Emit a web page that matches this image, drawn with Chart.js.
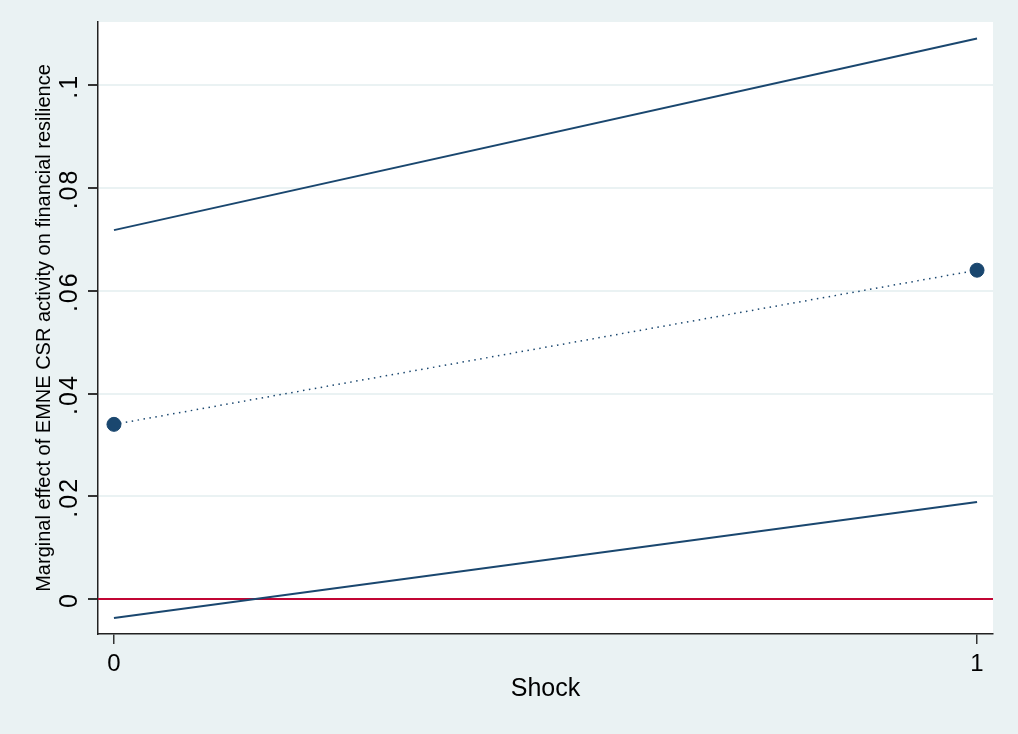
<!DOCTYPE html>
<html>
<head>
<meta charset="utf-8">
<script src="https://cdn.jsdelivr.net/npm/chart.js@4/dist/chart.umd.min.js"></script>
<style>
  html, body { margin: 0; padding: 0; background: #eaf2f3; }
  #wrap { width: 1018px; height: 734px; }
</style>
</head>
<body>
<div id="wrap"><canvas id="c" width="1018" height="734"></canvas></div>
<script>
// margins plot: effect of EMNE CSR at Shock = 0 / 1
const SHOCK = [0, 1];
const EFFECT = [0.0340, 0.0640];
const CI_UPPER = [0.0718, 0.1091];
const CI_LOWER = [-0.0037, 0.0189];

const X_MIN = -0.0185, X_MAX = 1.0185;
const Y_MIN = -0.0068, Y_MAX = 0.1123;
const X_TICKS = [0, 1];
const Y_TICKS = [0, 0.02, 0.04, 0.06, 0.08, 0.1];
const Y_TICK_LABELS = ["0", ".02", ".04", ".06", ".08", ".1"];

const NAVY = "#1a476f";
const RED = "#c10534";
const FONT = "'Liberation Sans', Arial, Helvetica, sans-serif";

function pts(ys) {
  return SHOCK.map(function (x, i) { return { x: x, y: ys[i] }; });
}

const stataText = {
  id: "stataText",
  beforeDraw(chart) {
    const a = chart.chartArea, ctx = chart.ctx;
    ctx.save();
    ctx.fillStyle = "#ffffff";
    ctx.fillRect(a.left, a.top, a.right - a.left, a.bottom - a.top);
    ctx.restore();
  },
  afterDraw(chart) {
    const ctx = chart.ctx, a = chart.chartArea, ys = chart.scales.y;
    ctx.save();
    ctx.fillStyle = "#000";
    ctx.textAlign = "center";
    ctx.textBaseline = "middle";
    // rotated y tick labels
    ctx.font = "25px " + FONT;
    ctx.letterSpacing = "2px";
    Y_TICKS.forEach(function (v, i) {
      const py = ys.getPixelForValue(v);
      ctx.save();
      ctx.translate(70, py + 1);
      ctx.rotate(-Math.PI / 2);
      ctx.fillText(Y_TICK_LABELS[i], 0, 0);
      ctx.restore();
    });
    ctx.letterSpacing = "0px";
    // y title
    ctx.font = "20px " + FONT;
    ctx.save();
    ctx.translate(44, (a.top + a.bottom) / 2);
    ctx.rotate(-Math.PI / 2);
    ctx.fillText("Marginal effect of EMNE CSR activity on financial resilience", 0, 0);
    ctx.restore();
    // x title
    ctx.font = "25px " + FONT;
    ctx.fillText("Shock", (a.left + a.right) / 2, 689);
    ctx.restore();
  }
};

new Chart(document.getElementById("c"), {
  type: "scatter",
  data: {
    datasets: [
      {
        data: [{ x: X_MIN, y: 0 }, { x: X_MAX, y: 0 }],
        showLine: true, borderColor: RED, borderWidth: 2,
        pointRadius: 0, order: 10
      },
      {
        data: pts(CI_UPPER), showLine: true, borderColor: NAVY,
        borderWidth: 2, pointRadius: 0, order: 2
      },
      {
        data: pts(CI_LOWER), showLine: true, borderColor: NAVY,
        borderWidth: 2, pointRadius: 0, order: 2
      },
      {
        data: pts(EFFECT), showLine: true, borderColor: NAVY,
        borderWidth: 1.5, borderDash: [1.5, 4.5],
        pointRadius: 7, pointBackgroundColor: NAVY,
        pointBorderColor: NAVY, pointBorderWidth: 1, order: 1
      }
    ]
  },
  options: {
    responsive: false,
    animation: false,
    layout: { padding: { left: 0, top: 22, right: 25, bottom: 0 } },
    plugins: { legend: { display: false }, tooltip: { enabled: false } },
    scales: {
      x: {
        type: "linear", min: X_MIN, max: X_MAX,
        afterBuildTicks(s) { s.ticks = X_TICKS.map(function (v) { return { value: v }; }); },
        afterFit(s) { s.height = 100; },
        grid: { drawOnChartArea: false, tickLength: 10, tickColor: "#333", lineWidth: 1.5 },
        border: { color: "#222", width: 1.5 },
        ticks: { color: "#000", padding: 6, font: { size: 24, family: FONT }, maxRotation: 0 }
      },
      y: {
        type: "linear", min: Y_MIN, max: Y_MAX,
        afterBuildTicks(s) { s.ticks = Y_TICKS.map(function (v) { return { value: v }; }); },
        afterFit(s) { s.width = 98; },
        grid: { color: "#eaf2f3", lineWidth: 2, tickLength: 10, tickColor: "#333" },
        border: { color: "#222", width: 1.5 },
        ticks: { display: false }
      }
    }
  },
  plugins: [stataText]
});
</script>
</body>
</html>
